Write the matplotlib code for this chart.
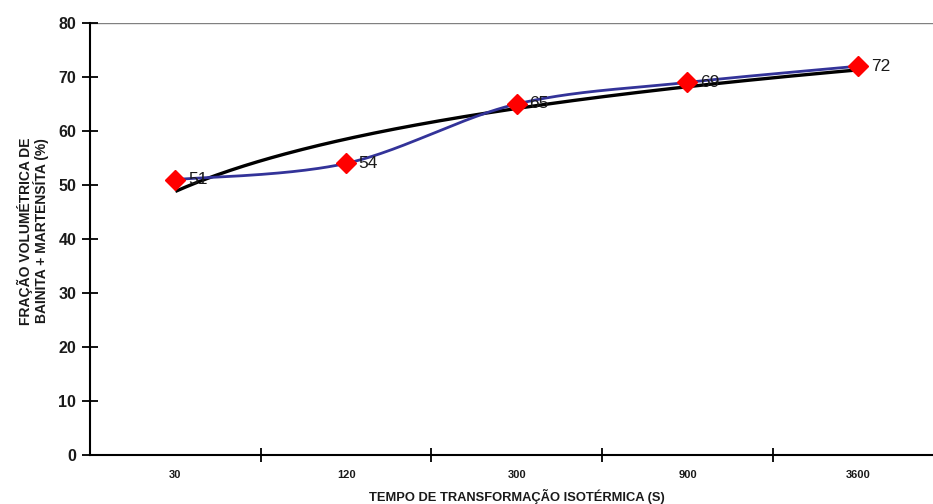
import numpy as np
import matplotlib
matplotlib.use("Agg")
import matplotlib.pyplot as plt

plt.rcParams['font.family'] = ['Liberation Sans', 'DejaVu Sans']

# Isothermal transformation times (s) and measured bainite + martensite fraction (%)
times = ["30", "120", "300", "900", "3600"]
fraction = [51, 54, 65, 69, 72]
yticks = [0, 10, 20, 30, 40, 50, 60, 70, 80]

x = np.arange(len(times), dtype=float)
y = np.array(fraction, dtype=float)


def smooth_curve(xs, ys, n=60):
    """Bezier smoothing through points (spreadsheet-style smoothed line)."""
    px = np.concatenate([[xs[0]], xs, [xs[-1]]])
    py = np.concatenate([[ys[0]], ys, [ys[-1]]])
    out_x, out_y = [], []
    t = np.linspace(0, 1, n)
    for i in range(1, len(px) - 2):
        p0 = np.array([px[i], py[i]])
        p3 = np.array([px[i + 1], py[i + 1]])
        c1 = p0 + (np.array([px[i + 1], py[i + 1]]) - np.array([px[i - 1], py[i - 1]])) / 6
        c2 = p3 - (np.array([px[i + 2], py[i + 2]]) - np.array([px[i], py[i]])) / 6
        b = ((1 - t) ** 3)[:, None] * p0 + (3 * (1 - t) ** 2 * t)[:, None] * c1 \
            + (3 * (1 - t) * t ** 2)[:, None] * c2 + (t ** 3)[:, None] * p3
        out_x.extend(b[:, 0])
        out_y.extend(b[:, 1])
    return np.array(out_x), np.array(out_y)


fig = plt.figure(figsize=(9.33, 5.04), dpi=100)
ax = fig.add_axes([0.0965, 0.0972, 0.9148, 0.8572])

# Logarithmic trendline fitted over the category index
idx = x + 1
a, b = np.polyfit(np.log(idx), y, 1)
tx = np.linspace(1, len(times), 200)
ax.plot(tx - 1, a * np.log(tx) + b, color='black', lw=2.4, zorder=2,
        solid_capstyle='butt')

sx, sy = smooth_curve(x, y)
ax.plot(sx, sy, color='#333399', lw=2.0, zorder=3)
ax.plot(x, y, linestyle='none', marker='D', markersize=10, color='#ff0000',
        markeredgecolor='#ff0000', zorder=4)

for xi, yi in zip(x, fraction):
    ax.annotate(str(yi), (xi, yi), xytext=(9, 0), textcoords='offset points',
                va='center', ha='left', fontsize=12.5, color='#1a1a1a', zorder=5)

ax.axhline(80, color='#808080', lw=1.0, zorder=1)

ax.set_xlim(-0.5, len(times) - 0.5)
ax.set_ylim(0, 80)
ax.set_yticks(yticks)
ax.set_yticklabels([str(v) for v in yticks], fontsize=11.5, fontweight='bold',
                   color='#1a1a1a')
ax.set_xticks(x)
ax.set_xticklabels(times, fontsize=8, fontweight='bold', color='#1a1a1a')
ax.set_xticks(np.arange(0.5, len(times) - 0.5, 1.0), minor=True)

ax.tick_params(axis='y', direction='inout', length=12, width=1.3, pad=4)
ax.tick_params(axis='x', which='major', length=0, pad=11)
ax.tick_params(axis='x', which='minor', direction='inout', length=10, width=1.3)

for s in ['top', 'right']:
    ax.spines[s].set_visible(False)
for s in ['left', 'bottom']:
    ax.spines[s].set_linewidth(1.5)
    ax.spines[s].set_color('black')

ax.set_xlabel('TEMPO DE TRANSFORMAÇÃO ISOTÉRMICA (S)', fontsize=9.3,
              fontweight='bold', color='#1a1a1a', labelpad=6)
fig.text(0.0355, 0.542, 'FRAÇÃO VOLUMÉTRICA DE\nBAINITA + MARTENSÍTA (%)',
         rotation=90, ha='center', va='center', fontsize=10,
         fontweight='bold', color='#1a1a1a', linespacing=1.0,
         multialignment='center')

fig.savefig('out.png', dpi=100)
